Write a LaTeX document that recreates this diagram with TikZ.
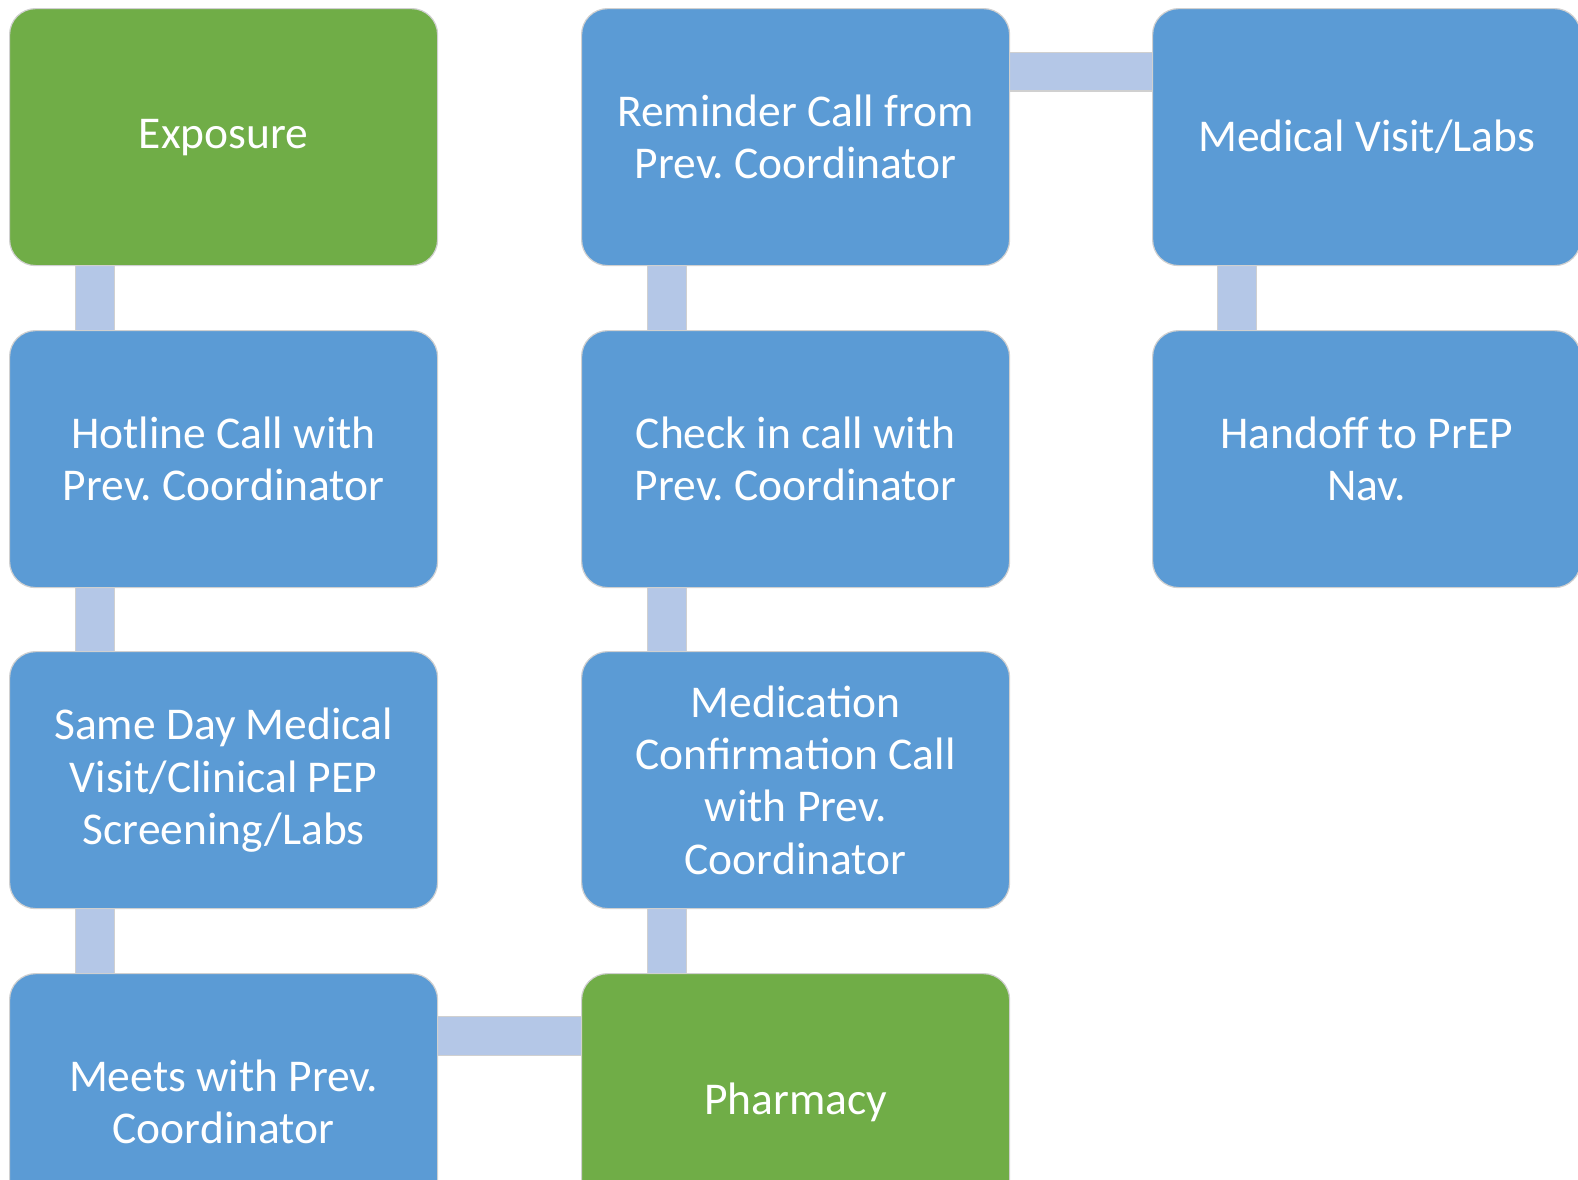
\documentclass[tikz,border=0pt]{standalone}
\usepackage{fontspec}
\setmainfont{Carlito}
\usetikzlibrary{calc}
\definecolor{boxblue}{HTML}{5B9BD5}
\definecolor{boxgreen}{HTML}{70AD47}
\definecolor{linkblue}{HTML}{B4C7E7}
\definecolor{edgegray}{HTML}{D0D0D0}
\tikzset{
  flowbox/.style={rectangle, rounded corners=26pt, minimum width=428pt, minimum height=257pt,
    draw=edgegray, line width=1.2pt, text=white, align=center, inner sep=0pt,
    font=\fontsize{45.5}{52.3}\selectfont, anchor=north west},
  bluebox/.style={flowbox, fill=boxblue},
  greenbox/.style={flowbox, fill=boxgreen},
  linkout/.style={draw=edgegray, line width=40pt},
  linkin/.style={draw=linkblue, line width=37.5pt},
}
\frenchspacing
\begin{document}
\begin{tikzpicture}[x=1pt,y=-1pt]
\useasboundingbox (0,0) rectangle (1578,1179);
\begin{scope}
\clip (0,0) rectangle (1578,1179);
% connectors first (under boxes)
\coordinate (c1a) at (95,265); \coordinate (c1b) at (95,330);
\coordinate (c1c) at (95,587); \coordinate (c1d) at (95,651);
\coordinate (c1e) at (95,908); \coordinate (c1f) at (95,973);
\coordinate (c2a) at (667,265); \coordinate (c2b) at (667,330);
\coordinate (c2c) at (667,587); \coordinate (c2d) at (667,651);
\coordinate (c2e) at (667,908); \coordinate (c2f) at (667,973);
\coordinate (c3a) at (1237,265); \coordinate (c3b) at (1237,330);
\coordinate (h1a) at (1009,71.5); \coordinate (h1b) at (1152,71.5);
\coordinate (h2a) at (437,1036); \coordinate (h2b) at (581,1036);
\foreach \p/\q in {c1a/c1b,c1c/c1d,c1e/c1f,c2a/c2b,c2c/c2d,c2e/c2f,c3a/c3b,h1a/h1b,h2a/h2b}{
  \draw[linkout] (\p) -- (\q);
  \draw[linkin] (\p) -- (\q);
}
% boxes
\node[greenbox] (exp) at (9,8) {Exposure};
\node[bluebox] (hot) at (9,330) {Hotline Call with\\Prev. Coordinator};
\node[bluebox] (same) at (9,651) {Same Day Medical\\Visit/Clinical PEP\\Screening/Labs};
\node[bluebox] (meet) at (9,973) {Meets with Prev.\\Coordinator};
\node[greenbox] (pharm) at (581,973) {Pharmacy};
\node[bluebox] (med) at (581,651) {Medication\\Confirmation Call\\with Prev.\\Coordinator};
\node[bluebox] (check) at (581,330) {Check in call with\\Prev. Coordinator};
\node[bluebox] (rem) at (581,8) {Reminder Call from\\Prev. Coordinator};
\node[bluebox] (visit) at (1152,8) {Medical Visit/Labs};
\node[bluebox] (hand) at (1152,330) {Handoff to PrEP\\Nav.};
\end{scope}
\end{tikzpicture}
\end{document}
